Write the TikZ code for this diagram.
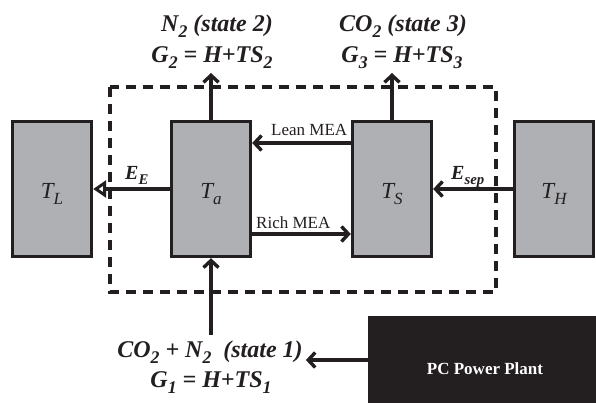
\documentclass[tikz,border=0pt]{standalone}
\usepackage{fontspec}
\usepackage{graphicx}
\setmainfont{Liberation Serif}
\usetikzlibrary{arrows.meta}
\definecolor{boxgray}{RGB}{175,176,179}
\definecolor{ink}{RGB}{35,31,32}
\newcommand{\sbs}[1]{\raisebox{-0.25em}{\scalebox{0.74}{#1}}}
\begin{document}
\begin{tikzpicture}[x=1pt,y=-1pt,
  blk/.style={draw=ink, fill=boxgray, line width=3.4pt, minimum width=79pt, minimum height=135pt, inner sep=0pt},
  tlab/.style={font=\fontsize{23}{26}\selectfont\itshape, text=ink, yshift=-5pt},
  flow/.style={draw=ink, line width=3.4pt, -{Straight Barb[length=7pt,width=15pt]}},
  eflow/.style={draw=ink, line width=3.4pt, -{Triangle[open,length=13pt,width=17pt,line width=3pt]}},
  big/.style={font=\fontsize{24}{28}\selectfont\bfseries\itshape, text=ink, inner sep=0pt, anchor=base},
  mea/.style={font=\fontsize{17}{19}\selectfont, text=ink, inner sep=0pt, anchor=base west},
  elab/.style={font=\fontsize{20}{22}\selectfont\bfseries\itshape, text=ink, inner sep=0pt, anchor=base west},
  sysbox/.style={draw=ink, line width=3.2pt, dash pattern=on 10pt off 7pt},
  plant/.style={draw=ink, fill=ink, line width=1pt, minimum width=230pt, minimum height=88pt, inner sep=0pt},
  planttext/.style={font=\fontsize{17}{19}\selectfont\bfseries, text=white, inner sep=0pt, anchor=base}
]
\useasboundingbox (0,0) rectangle (596,403);
\fill[white] (0,0) rectangle (596,403);

% system boundary
\draw[sysbox] (110,87) rectangle (496,292);

% blocks
\node[blk] (tl) at (52,189) {};
\node[blk] (ta) at (211,189) {};
\node[blk] (ts) at (392,189) {};
\node[blk] (th) at (554,189) {};
\node[tlab] at (tl.center) {T\sbs{L}};
\node[tlab] at (ta.center) {T\sbs{a}};
\node[tlab] at (ts.center) {T\sbs{S}};
\node[tlab] at (th.center) {T\sbs{H}};

% power plant
\node[plant] (pc) at (483,360) {};
\node[planttext] (pclab) at (485,374) {PC Power Plant};

% state texts
\node[big] (n2a) at (217,32) {N\sbs{2} (state 2)};
\node[big] (n2b) at (212,63) {G\sbs{2} = H+TS\sbs{2}};
\node[big] (n3a) at (403,32) {CO\sbs{2} (state 3)};
\node[big] (n3b) at (402,63) {G\sbs{3} = H+TS\sbs{3}};
\node[big] (s1a) at (210,357) {CO\sbs{2} + N\sbs{2}\ \ (state 1)};
\node[big] (s1b) at (211,387) {G\sbs{1} = H+TS\sbs{1}};

\coordinate (tatip) at (211,73);
\coordinate (tstip) at (392,73);
\coordinate (s1top) at (211,335);

% flows
\draw[flow] (ta.north) -- (tatip);
\draw[flow] (ts.north) -- (tstip);
\draw[flow] (s1top) -- (ta.south);
\draw[flow] ([yshift=46pt]ts.west) -- ([yshift=46pt]ta.east);
\draw[flow] ([yshift=-45pt]ta.east) -- ([yshift=-45pt]ts.west);
\draw[eflow] (ta.west) -- (tl.east);
\draw[flow] (th.west) -- (ts.east);
\draw[flow, shorten >=3pt] (pc.west) -- (pc.west -| s1a.east);

% labels
\node[mea] at (271,136) {Lean MEA};
\node[mea] at (256,228) {Rich MEA};
\node[elab] at (125,180) {E\sbs{E}};
\node[elab] at (451,180) {E\sbs{sep}};
\end{tikzpicture}
\end{document}
